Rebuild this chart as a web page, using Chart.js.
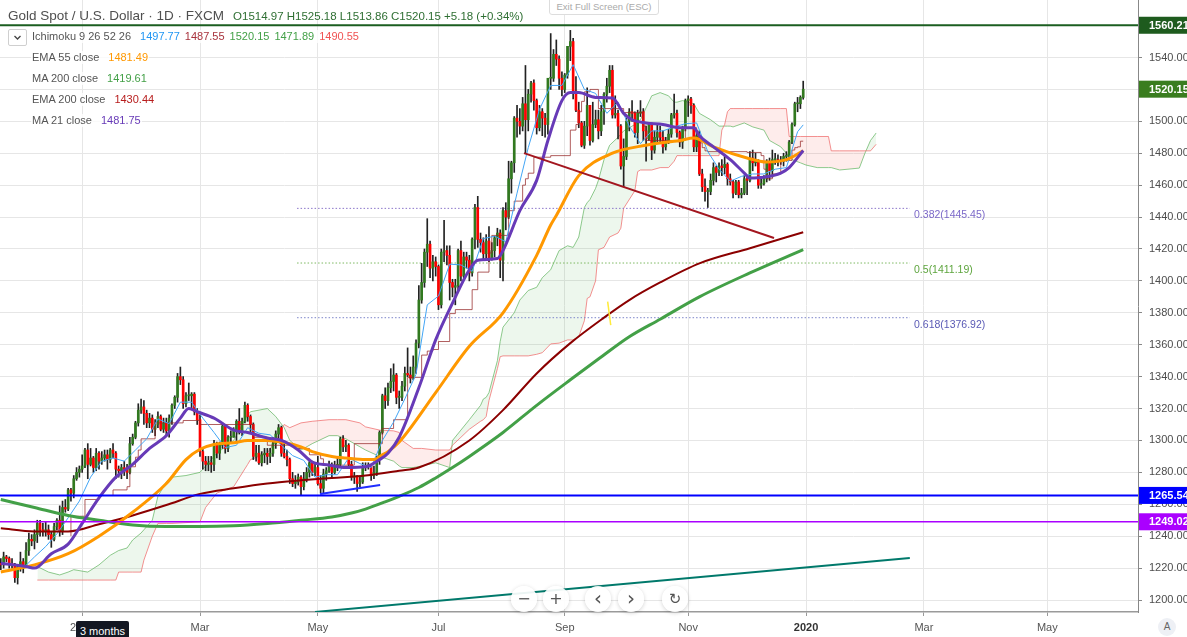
<!DOCTYPE html>
<html><head><meta charset="utf-8">
<script src="https://cdn.jsdelivr.net/npm/chart.js@4.4.1/dist/chart.umd.min.js"></script>
<style>
html,body{margin:0;padding:0;background:#fff;overflow:hidden;}
#wrap{position:relative;width:1187px;height:637px;overflow:hidden;font-family:"Liberation Sans",Arial,sans-serif;}
canvas{position:absolute;left:0;top:0;}
.ov{position:absolute;white-space:nowrap;}
.row{font-size:11px;line-height:13px;color:#555;background:rgba(255,255,255,0.8);padding:0 1px;}
.row span{margin-left:5px;}
.row span.f{margin-left:9px;}
.btn{position:absolute;width:26px;height:26px;border-radius:50%;background:rgba(255,255,255,0.92);box-shadow:0 1px 4px rgba(0,0,0,0.18);color:#555;text-align:center;line-height:26px;font-family:"DejaVu Sans",sans-serif;}
</style></head><body>
<div id="wrap">
<canvas id="c" width="1187" height="637"></canvas>
<div class="ov" style="left:8px;top:8px;font-size:13.5px;line-height:15px;color:#4f4f4f;">Gold Spot / U.S. Dollar · 1D · FXCM<span style="color:#2f6f33;font-size:11.5px;margin-left:9px;">O1514.97 H1525.18 L1513.86 C1520.15 +5.18 (+0.34%)</span></div>
<div class="ov" style="left:549px;top:-1px;width:108px;height:14px;border:1px solid #ddd;border-radius:0 0 3px 3px;background:#fff;color:#aaa;font-size:9.5px;line-height:14px;text-align:center;">Exit Full Screen (ESC)</div>
<div class="ov" style="left:8px;top:29px;width:17px;height:15px;border:1px solid #cfcfcf;border-radius:2px;background:#fff;"><svg width="17" height="15"><polyline points="5.5,6 8.5,9 11.5,6" fill="none" stroke="#444" stroke-width="1.3"/></svg></div>
<div class="ov row" style="left:31px;top:30px;">Ichimoku 9 26 52 26<span class="f" style="color:#2196f3">1497.77</span><span style="color:#a8323c">1487.55</span><span style="color:#43a047">1520.15</span><span style="color:#43a047">1471.89</span><span style="color:#f05252">1490.55</span></div>
<div class="ov row" style="left:31px;top:51px;">EMA 55 close<span class="f" style="color:#ff9800">1481.49</span></div>
<div class="ov row" style="left:31px;top:72px;">MA 200 close<span class="f" style="color:#43a047">1419.61</span></div>
<div class="ov row" style="left:31px;top:93px;">EMA 200 close<span class="f" style="color:#b71c1c">1430.44</span></div>
<div class="ov row" style="left:31px;top:114px;">MA 21 close<span class="f" style="color:#673ab7">1481.75</span></div>
<div class="ov" style="left:76px;top:621px;width:53px;height:18px;background:#131722;color:#fff;font-size:11px;line-height:20px;text-align:center;border-radius:2px 2px 0 0;">3 months</div>
<div class="btn" style="left:511px;top:586px;font-size:16px;">−</div>
<div class="btn" style="left:543px;top:586px;font-size:16px;">+</div>
<div class="btn" style="left:585px;top:586px;font-size:20px;line-height:24px;">‹</div>
<div class="btn" style="left:618px;top:586px;font-size:20px;line-height:24px;">›</div>
<div class="btn" style="left:662px;top:586px;font-size:15px;">↻</div>
<div class="ov" style="left:1158px;top:618px;width:18px;height:18px;border-radius:50%;background:#eef0f5;color:#666;font-size:10px;line-height:18px;text-align:center;">A</div>
</div>
<script>
// ---------- DATA ----------
// daily candles, bar index 0 = 20 Nov 2018 ... 286 = 31 Dec 2019
const O=[1223,1222,1227,1226,1223,1222,1214,1221,1224,
1222,1231,1238,1237,1241,1248,1244,1243,1244,1241,1238,1246,1250,1243,1258,1257,1269,1267,1276,1280,
1282,1284,1294,1285,1289,1283,1292,1287,1289,1291,1288,1294,1292,1282,1281,1283,1282,1280,1298,1302,1311,1319,
1321,1317,1311,1314,1307,1310,1315,1307,1311,1306,1314,1322,1327,1340,1338,1323,1328,1328,1329,1318,
1313,1293,1287,1285,1286,1285,1298,1292,1297,1309,1295,1302,1302,1306,1312,1306,1312,1322,1315,1310,1290,
1292,1286,1291,1292,1290,1292,1298,1304,1308,1292,1290,1288,1276,1273,1274,1277,1271,1276,1280,1286,1280,
1283,1273,1270,1279,1281,1284,1280,1284,1285,1301,1296,1297,1285,1277,1277,1273,1274,1283,1284,1284,1278,1280,1288,
1305,1328,1325,1333,1337,1341,1327,1327,1334,1342,1341,1339,1346,1361,1388,1399,1418,1423,1408,1412,
1409,1385,1418,1419,1416,1399,1396,1397,1419,1403,1415,1413,1405,1426,1446,1426,1424,1417,1425,1414,1419,1427,1430,
1413,1444,1440,1464,1474,1502,1500,1497,1511,1501,1517,1524,1513,1496,1506,1502,1498,1527,1527,1542,1539,1527,
1520,1529,1547,1550,1519,1507,1499,1485,1497,1510,1488,1498,1501,1494,1506,1517,1522,1532,1504,1505,1497,
1472,1478,1500,1506,1505,1493,1505,1506,1494,1489,1498,1482,1490,1493,1490,1484,1487,1492,1504,1505,1493,1487,1496,
1513,1514,1510,1484,1491,1467,1459,1456,1456,1463,1471,1468,1472,1471,1473,1464,1462,1455,1462,1454,1455,
1464,1463,1477,1474,1475,1460,1461,1464,1475,1469,1476,1476,1475,1475,1478,1478,1487,1498,1511,1511,1514.97];
const H=[1226,1230,1228,1227,1226,1223,1222,1230,1226,
1236,1242,1241,1244,1250,1250,1248,1249,1247,1243,1248,1251,1259,1262,1263,1270,1270,1278,1283,1284,
1291,1295,1298,1295,1290,1295,1293,1293,1294,1294,1295,1298,1293,1284,1285,1287,1285,1302,1304,1312,1323,1326,
1325,1319,1317,1316,1313,1318,1316,1314,1314,1316,1323,1328,1342,1346,1340,1330,1336,1330,1330,1320,
1316,1295,1290,1290,1290,1300,1299,1299,1311,1310,1303,1306,1308,1313,1320,1314,1324,1323,1316,1311,1297,
1297,1293,1295,1295,1295,1302,1306,1310,1309,1298,1294,1289,1280,1278,1279,1278,1280,1283,1288,1287,1286,
1290,1278,1282,1283,1287,1286,1287,1289,1302,1303,1300,1298,1287,1280,1278,1277,1286,1286,1286,1285,1284,1290,1306,
1329,1333,1336,1345,1348,1342,1331,1337,1346,1358,1346,1353,1363,1397,1411,1420,1439,1425,1416,1415,
1410,1420,1438,1422,1422,1401,1401,1420,1425,1418,1418,1416,1427,1448,1453,1430,1427,1429,1434,1424,1428,1433,1432,
1446,1449,1475,1475,1503,1510,1508,1515,1535,1520,1525,1526,1514,1510,1508,1505,1527,1555,1545,1551,1541,1531,
1530,1547,1557,1552,1528,1512,1500,1500,1521,1510,1512,1507,1507,1510,1518,1527,1535,1535,1516,1507,1498,
1489,1502,1508,1513,1506,1507,1513,1508,1497,1499,1499,1494,1498,1497,1494,1490,1495,1505,1517,1507,1494,1497,1514,
1516,1515,1511,1494,1494,1470,1464,1458,1467,1474,1472,1474,1476,1479,1474,1467,1463,1463,1463,1458,1466,
1465,1481,1482,1480,1476,1464,1466,1476,1477,1482,1480,1479,1478,1480,1481,1488,1499,1512,1515,1516,1525.18];
const L=[1219,1220,1224,1220,1220,1211,1210,1218,1217,
1221,1228,1234,1232,1236,1240,1240,1240,1238,1233,1237,1244,1240,1241,1255,1256,1262,1264,1275,1277,
1280,1283,1276,1284,1280,1281,1282,1285,1287,1282,1286,1289,1276,1277,1276,1278,1276,1279,1297,1301,1309,1317,
1310,1308,1308,1305,1303,1308,1306,1305,1303,1302,1310,1320,1324,1335,1320,1321,1325,1320,1316,1310,
1290,1282,1281,1281,1280,1281,1289,1288,1295,1292,1293,1299,1302,1300,1304,1303,1311,1312,1305,1288,1287,
1285,1284,1286,1285,1286,1290,1295,1301,1290,1289,1284,1273,1271,1270,1272,1266,1269,1274,1277,1278,1278,
1272,1267,1267,1275,1280,1277,1279,1281,1283,1293,1293,1284,1275,1273,1268,1271,1273,1281,1282,1275,1276,1278,1285,
1304,1320,1322,1330,1331,1323,1320,1325,1331,1340,1336,1338,1342,1358,1386,1396,1409,1402,1400,1403,
1382,1383,1412,1410,1388,1390,1385,1393,1400,1402,1408,1400,1403,1420,1421,1418,1413,1414,1412,1413,1415,1422,1402,
1400,1432,1439,1455,1468,1490,1492,1494,1480,1494,1512,1507,1492,1494,1491,1490,1492,1520,1525,1535,1520,1516,
1518,1527,1538,1514,1506,1496,1484,1483,1491,1485,1487,1496,1489,1491,1498,1512,1518,1502,1502,1489,1470,
1459,1476,1494,1500,1490,1486,1503,1488,1475,1488,1476,1480,1486,1487,1480,1482,1486,1490,1502,1490,1484,1483,1494,
1503,1505,1481,1481,1466,1456,1450,1446,1454,1460,1462,1466,1466,1467,1460,1460,1452,1454,1452,1452,1454,
1454,1462,1469,1472,1458,1458,1460,1462,1463,1465,1473,1472,1473,1472,1475,1477,1486,1497,1506,1508,1513.86];
const C=[1222,1227,1226,1223,1222,1214,1221,1224,1222,
1231,1238,1237,1241,1248,1244,1243,1244,1241,1238,1246,1250,1243,1258,1257,1269,1267,1276,1280,1282,
1284,1294,1285,1289,1283,1292,1287,1289,1291,1288,1294,1292,1282,1281,1283,1282,1280,1298,1302,1311,1319,1321,
1317,1311,1314,1307,1310,1315,1307,1311,1306,1314,1322,1327,1340,1338,1323,1328,1328,1329,1318,1313,
1293,1287,1285,1286,1285,1298,1292,1297,1309,1295,1302,1302,1306,1312,1306,1312,1322,1315,1310,1290,1292,
1286,1291,1292,1290,1292,1298,1304,1308,1292,1290,1288,1276,1273,1274,1277,1271,1276,1280,1286,1280,1283,
1273,1270,1279,1281,1284,1280,1284,1285,1301,1296,1297,1285,1277,1277,1273,1274,1283,1284,1284,1278,1280,1288,1305,
1328,1325,1333,1337,1341,1327,1327,1334,1342,1341,1339,1346,1361,1388,1399,1418,1423,1408,1412,1409,
1385,1418,1419,1416,1399,1396,1397,1419,1403,1415,1413,1405,1426,1446,1426,1424,1417,1425,1414,1419,1427,1430,1413,
1444,1440,1464,1474,1502,1500,1497,1511,1501,1517,1524,1513,1496,1506,1502,1498,1527,1527,1542,1539,1527,1520,
1529,1547,1550,1519,1507,1499,1485,1497,1510,1488,1498,1501,1494,1506,1517,1522,1532,1504,1505,1497,1472,
1478,1500,1506,1505,1493,1505,1506,1494,1489,1498,1482,1490,1493,1490,1484,1487,1492,1504,1505,1493,1487,1496,1513,
1514,1510,1484,1491,1467,1459,1456,1456,1463,1471,1468,1472,1471,1473,1464,1462,1455,1462,1454,1455,1464,
1463,1477,1474,1475,1460,1461,1464,1475,1469,1476,1476,1475,1475,1478,1478,1487,1498,1511,1511,1515,1520.15];

// axis ticks
const monthIdx=[29,71,113,156,201,245,287,329,373];
const monthLbl=['2019','Mar','May','Jul','Sep','Nov','2020','Mar','May'];
const yTicks=[1200,1220,1240,1260,1280,1300,1320,1340,1360,1380,1400,1420,1440,1460,1480,1500,1520,1540,1560];

// moving averages (bar index -> price)
const ma21X=[0,9,12,18,24,29,35,41,47,53,59,64,67,70,76,83,88,95,100,106,111,117,123,130,135,138,142,149,155,161,167,170,177,179,185,191,195,200,203,206,212,218,222,225,230,236,242,247,249,254,260,265,267,272,278,281,286];
const ma21Y=[1223,1221,1220,1229,1235,1248,1264,1277,1285,1295,1303,1314,1320,1318,1314,1306.5,1305,1301.5,1300,1294,1286.5,1284.6,1283,1283.5,1288,1292,1302,1333,1363,1386,1407,1413,1414,1419,1444,1463,1488,1513,1518,1518,1515,1514.6,1505,1501,1499,1498,1496,1496,1491,1484,1476,1467.6,1464.5,1465,1467.6,1471,1481.75];
const ema55X=[0,12,24,35,47,59,66,71,76,83,88,95,100,107,111,118,123,130,133,136,138,142,155,167,179,191,196,198,206,218,230,242,247,254,266,273,280,286];
const ema55Y=[1217.5,1222,1229,1240,1255,1273,1288,1294.5,1297.5,1298.5,1300,1300,1299,1296,1293,1290,1289,1288,1288,1291,1293,1299,1330,1359,1380,1416,1435,1441,1466,1480,1485,1488,1489.5,1484,1477,1474.5,1476,1481.49];
const ma200X=[0,12,24,35,47,59,71,83,95,107,118,125,130,137,142,149,155,161,167,179,191,203,213,224,235,249,267,286];
const ma200Y=[1263,1258,1253,1250,1247,1246,1246,1246.5,1248,1250,1252,1254.5,1257,1261.5,1265,1270.5,1276.5,1283,1290,1305,1322,1338,1351,1365,1376,1390,1405,1419.61];
const ema200X=[0,12,24,35,47,59,71,83,95,107,118,130,142,149,167,179,191,203,215,224,235,249,267,286];
const ema200Y=[1245,1243,1243,1247.5,1253,1259.5,1266.5,1270,1273,1275,1276.5,1278,1281,1283,1300,1319,1342,1361,1377,1388,1399,1411,1420.5,1430.44];

// Ichimoku
const tenkanX=[8,12,16,20,24,28,32,36,40,44,48,52,56,60,64,68,72,76,80,84,88,92,96,100,104,108,112,116,120,124,128,132,136,140,144,148,152,156,160,164,168,172,176,180,184,188,192,196,200,204,208,212,216,220,224,228,232,236,240,244,248,252,256,260,264,268,272,276,280,284,286];
const tenkanY=[1220,1227,1233.5,1241.5,1251.5,1262,1277,1287,1289,1287,1294,1301,1313.5,1310.5,1324,1324,1314,1305,1295.5,1297,1308,1304.5,1303.5,1297,1290.5,1287.5,1277,1278.5,1278.5,1289,1285.5,1283,1300,1311.5,1326,1341.5,1385,1390.5,1410.5,1410,1406,1426.5,1428,1424.5,1455,1483.5,1507.5,1522.5,1522.5,1535.5,1520,1517.5,1505,1512,1497,1486,1494,1494,1496.5,1498.5,1499,1481,1470,1462.5,1465.5,1467,1467,1470,1471,1493.5,1497.77];
const kijunX=[25,30,35,40,45,46,48,49,50,55,65,71,90,95,105,110,114,115,126,136,140,145,150,152,154,156,160,162,168,170,174,175,181,183,186,187,188,190,196,203,205,206,207,208,210,213,222,229,230,244,248,249,250,251,252,266,271,272,273,275,278,282,283,284,285,286];
const kijunY=[1240,1252.5,1263,1265.5,1269,1271,1283.5,1289.5,1294,1301,1311,1312.5,1310,1302,1297,1295,1291,1288.5,1284.5,1298,1307.5,1313,1339.5,1353.5,1356,1357,1362,1379.5,1382,1394.5,1405.5,1417.5,1428.5,1444,1450,1460,1464,1467.5,1477.5,1478.5,1494.5,1498,1506,1512.5,1518.5,1520,1508,1505.5,1497,1488,1496,1491.5,1486.5,1483.5,1481.5,1481,1480.5,1478.5,1470,1464,1467,1475.5,1482,1483.5,1484,1487.55];
const spanX=[13,17,21,24,26,31,35,39,41,42,45,47,50,51,54,56,59,61,66,71,73,77,83,88,89,95,98,101,103,107,111,117,120,123,128,130,135,140,142,143,147,150,155,160,161,164,167,171,172,173,174,177,178,179,183,185,188,191,193,196,199,202,204,206,208,209,210,212,213,215,217,220,221,222,226,227,228,232,235,238,240,241,243,247,249,253,256,257,258,259,260,261,265,268,272,274,278,280,281,282,285,287,291,295,296,299,306,308,310,312];
const spanA=[1221,1217.5,1215.7,1217.5,1219,1217.5,1222,1228,1230,1231,1232.6,1237.6,1242,1244,1250,1265,1274,1277,1278,1280,1284,1292,1300,1316,1318,1320,1315,1308,1300,1294,1298,1303,1303,1301,1296,1294,1290,1287,1284,1283,1283,1284,1286,1283,1300,1306.5,1313,1322,1326,1327,1330,1350,1362,1371,1380,1388,1394,1396,1402,1407,1419,1422,1421,1427.5,1446,1449,1451,1458,1463,1476,1485,1490,1492,1494,1498,1500,1501,1516,1518,1516,1512,1512,1513,1511,1505,1501,1497,1497,1497,1497,1497,1496.5,1499,1496.5,1494.5,1488,1484,1480,1478,1476,1474,1472.6,1471,1471,1471,1469.5,1470.7,1480,1488,1492.7];
const spanB=[1212.5,1212.5,1212.5,1212.5,1212.5,1212.5,1212.5,1212.5,1212.5,1217.5,1217.5,1217.5,1217.5,1225,1240,1248,1248,1248,1248.5,1249,1258,1267,1271,1285,1288,1292,1300,1310,1308,1311,1312,1313,1313,1313,1311,1308.5,1306.5,1306,1305,1300,1295,1295,1294,1294,1297,1302,1307,1312,1313,1315,1325,1345,1352.5,1353,1353,1353,1353,1354,1355,1360.5,1361,1363,1363,1365,1375,1389,1390,1400,1419.5,1421,1427.5,1430,1433,1445.5,1456.5,1468.5,1469.5,1469.5,1471,1471,1475,1478.5,1478.5,1478.5,1478.5,1478.5,1478.5,1494.5,1498,1506,1508,1508,1508,1508,1508,1508,1508,1508,1490.5,1490.5,1490.5,1490.5,1490.5,1490.5,1481.5,1481.5,1481.5,1481.5,1481.5,1485.6];

// horizontal price levels, fibonacci levels, drawings
const hLevels=[1560.21,1265.54,1249.02];
const fibLevels=[1445.45,1411.19,1376.92];
const fibLabels=['0.382(1445.45)','0.5(1411.19)','0.618(1376.92)'];
const fibFrom=105.6, fibTo=324, fibLabelAt=325.5;
const trendRedX=[186.5,275.6], trendRedY=[1480.1,1426.9];
const trendBlueX=[113.8,135.2], trendBlueY=[1266.4,1272.1];
const trendTealX=[112,324], trendTealY=[1192.5,1226.3];
const yellowX=[216.3,217.4], yellowY=[1387,1372.3];
const lastPrice=1520.15;

// ---------- CHART ----------
const FF='"Liberation Sans", Arial, sans-serif';
const XMIN=-0.287, XMAX=405.33, YMIN=1192.48, YMAX=1576.04;
const UP='#31791f', DOWN='#ff0000';
const pts=(xs,ys)=>xs.map((x,i)=>({x:x,y:ys[i]}));
const line=(xs,ys,color,w,order,extra)=>Object.assign({type:'line',data:pts(xs,ys),borderColor:color,borderWidth:w,pointRadius:0,pointHoverRadius:0,fill:false,tension:0,order:order},extra||{});

const datasets=[];
datasets.push(line(spanX,spanA,'rgba(102,187,106,0.75)',1,30));
datasets.push(line(spanX,spanB,'rgba(239,108,108,0.75)',1,29,{fill:{target:0,above:'rgba(244,67,54,0.10)',below:'rgba(76,175,80,0.10)'}}));
const fibColors=['#8a74c9','#7cb861','#7c84c9'];
fibLevels.forEach((v,i)=>datasets.push(line([fibFrom,fibTo],[v,v],fibColors[i],1,28,{borderDash:[1.5,2]})));
datasets.push({type:'bar',data:C.map((c,i)=>({x:i,y:[L[i],H[i]]})),backgroundColor:'#222',barThickness:1,grouped:false,borderWidth:0,order:21});
datasets.push({type:'bar',data:C.map((c,i)=>({x:i,y:[Math.min(O[i],c),Math.max(O[i],c)]})),backgroundColor:C.map((c,i)=>c>=O[i]?UP:DOWN),barThickness:2,minBarLength:1,grouped:false,borderWidth:0,order:20});
datasets.push(line(kijunX,kijunY,'rgba(150,40,40,0.75)',1,12,{stepped:'after'}));
datasets.push(line(tenkanX,tenkanY,'#42a5f5',1,11));
datasets.push(line(ema200X,ema200Y,'#8b0000',2,9,{cubicInterpolationMode:'monotone'}));
datasets.push(line(ma200X,ma200Y,'#43a047',3,8,{cubicInterpolationMode:'monotone'}));
datasets.push(line(ema55X,ema55Y,'#ff9800',3,7,{cubicInterpolationMode:'monotone'}));
datasets.push(line(ma21X,ma21Y,'#673ab7',3,6,{cubicInterpolationMode:'monotone'}));
datasets.push(line(trendRedX,trendRedY,'#a3161f',2,4));
datasets.push(line(trendBlueX,trendBlueY,'#1f2eff',2,4));
datasets.push(line(trendTealX,trendTealY,'#00796b',2,4));
datasets.push(line(yellowX,yellowY,'#ffeb3b',1.5,4));
const hColors=['#1b5e20','#0000ff','#aa00ff'], hWidths=[2,2,1.5];
hLevels.forEach((v,i)=>datasets.push(line([XMIN-2,XMAX+2],[v,v],hColors[i],hWidths[i],2)));

const overlay={id:'overlay',afterDraw(chart){
  const ctx=chart.ctx, x=chart.scales.x, y=chart.scales.y;
  ctx.save();
  ctx.font='10.5px '+FF; ctx.textBaseline='middle'; ctx.textAlign='left';
  const fibText=['#7b68c8','#5ea53e','#5a5ab5'];
  fibLevels.forEach((v,i)=>{ctx.fillStyle=fibText[i];ctx.fillText(fibLabels[i],x.getPixelForValue(fibLabelAt),y.getPixelForValue(v)+7);});
  const boxes=[[hLevels[0],'#1e5b1e'],[lastPrice,'#3a7d1f'],[hLevels[1],'#0000ff'],[hLevels[2],'#aa00ff']];
  ctx.font='bold 11px '+FF;
  boxes.forEach(b=>{const py=y.getPixelForValue(b[0]);ctx.fillStyle=b[1];ctx.fillRect(1139,py-8.5,48,17);ctx.fillStyle='#fff';ctx.fillText(b[0].toFixed(2),1149,py+0.5);});
  ctx.restore();
}};

new Chart(document.getElementById('c'),{
  type:'line',
  data:{datasets:datasets},
  options:{
    animation:false,responsive:false,maintainAspectRatio:false,events:[],
    layout:{padding:0},
    plugins:{legend:{display:false},tooltip:{enabled:false},title:{display:false}},
    scales:{
      x:{type:'linear',min:XMIN,max:XMAX,bounds:'data',offset:false,
        grid:{color:'#e6e6e6',tickColor:'#999',tickLength:4,offset:false},
        border:{color:'#9a9a9a',width:1.5},
        afterBuildTicks:s=>{s.ticks=monthIdx.map(v=>({value:v}));},
        afterFit:s=>{s.height=25;s.paddingLeft=0;s.paddingRight=0;},
        ticks:{autoSkip:false,maxRotation:0,minRotation:0,padding:5,
          color:c=>(c.tick&&c.tick.value===287)?'#333':'#555',
          font:c=>({family:FF,size:11,weight:(c.tick&&c.tick.value===287)?'bold':'normal'}),
          callback:v=>{const k=monthIdx.indexOf(v);return k>=0?monthLbl[k]:'';}}},
      y:{type:'linear',position:'right',min:YMIN,max:YMAX,bounds:'data',
        grid:{color:'#e6e6e6',tickColor:'#888',tickLength:4},
        border:{color:'#888',width:1},
        afterBuildTicks:s=>{s.ticks=yTicks.map(v=>({value:v}));},
        afterFit:s=>{s.width=49;s.paddingTop=0;s.paddingBottom=0;},
        ticks:{padding:7,color:'#4d4d4d',font:{family:FF,size:11},callback:v=>Number(v).toFixed(2)}}
    }
  },
  plugins:[overlay]
});
</script>
</body></html>
